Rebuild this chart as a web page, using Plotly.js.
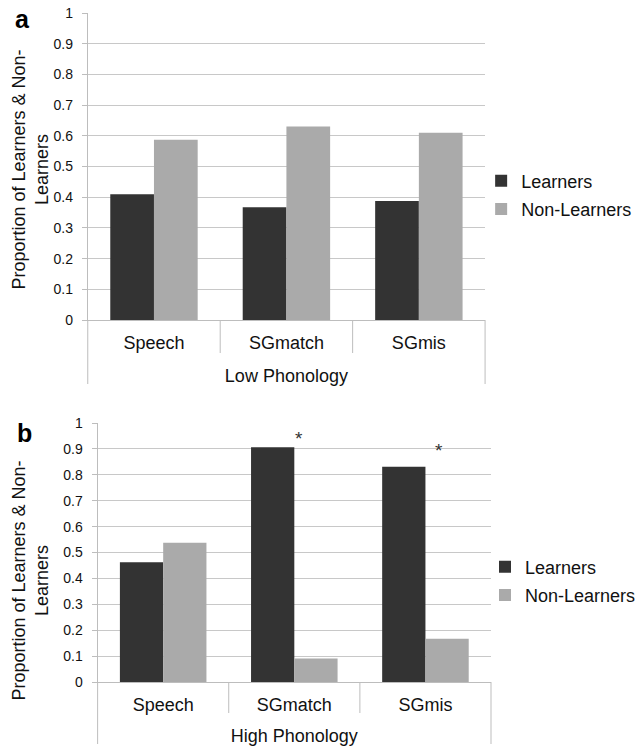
<!DOCTYPE html>
<html>
<head>
<meta charset="utf-8">
<script src="https://cdn.plot.ly/plotly-3.0.1.min.js"></script>
<style>html,body{margin:0;padding:0;background:#fff}#chart{width:641px;height:746px}</style>
</head>
<body>
<div id="chart"></div>
<script>
// ---- data ----
const categories = ["Speech", "SGmatch", "SGmis"];
const lowLearners = [0.41, 0.367, 0.388];
const lowNonLearners = [0.587, 0.63, 0.61];
const highLearners = [0.462, 0.906, 0.831];
const highNonLearners = [0.538, 0.091, 0.167];
const groupLow = "Low Phonology";
const groupHigh = "High Phonology";
const yTitle = "Proportion of Learners &amp; Non-<br>Learners";
const seriesNames = ["Learners", "Non-Learners"];
const sigCategories = ["SGmatch", "SGmis"];

// ---- helpers (pixel -> paper) ----
const W = 641, H = 746;
const px = x => x / W;
const py = y => 1 - y / H;

const FONT = "Liberation Sans, Arial, sans-serif";
const DARK = "#333333", LIGHT = "#aaaaaa";
const GRID = "#c8c8c8", LINE = "#bdbdbd";
const TXT = "#111111";

const traces = [
  {type: "bar", x: categories, y: lowLearners, name: seriesNames[0], xaxis: "x", yaxis: "y",
   marker: {color: DARK}, legend: "legend", legendgroup: "a1"},
  {type: "bar", x: categories, y: lowNonLearners, name: seriesNames[1], xaxis: "x", yaxis: "y",
   marker: {color: LIGHT}, legend: "legend", legendgroup: "a2"},
  {type: "bar", x: categories, y: highLearners, name: seriesNames[0], xaxis: "x2", yaxis: "y2",
   marker: {color: DARK}, legend: "legend2", legendgroup: "b1"},
  {type: "bar", x: categories, y: highNonLearners, name: seriesNames[1], xaxis: "x2", yaxis: "y2",
   marker: {color: LIGHT}, legend: "legend2", legendgroup: "b2"}
];

const xDomA = [px(89), px(492)], yDomA = [py(320), py(13)];
const xDomB = [px(99), px(498)], yDomB = [py(682), py(423)];

function xAxis(domain, anchor, title) {
  return {
    domain: domain, anchor: anchor, type: "category",
    showline: true, linecolor: LINE, linewidth: 1,
    showgrid: false, zeroline: false, ticks: "", ticklabelstandoff: 6,
    tickfont: {family: FONT, size: 18, color: TXT},
    title: {text: title, font: {family: FONT, size: 18, color: TXT}, standoff: 17},
    fixedrange: true
  };
}
function yAxis(domain, anchor) {
  return {
    domain: domain, anchor: anchor, range: [0, 1], dtick: 0.1, tick0: 0,
    showline: true, linecolor: LINE, linewidth: 1,
    showgrid: true, gridcolor: GRID, gridwidth: 1, zeroline: false,
    ticks: "outside", ticklen: 5, tickcolor: LINE, ticklabelstandoff: 6,
    tickfont: {family: FONT, size: 14, color: TXT},
    fixedrange: true
  };
}

// dividers between categories + extended outer lines
const shapes = [];
function addDividers(xref, xDom, yAxisPx, divBottomPx, outerBottomPx) {
  for (let i = 1; i < categories.length; i++) {
    shapes.push({type: "line", xref: xref, yref: "paper", x0: i - 0.5, x1: i - 0.5,
      y0: py(yAxisPx), y1: py(divBottomPx), line: {color: LINE, width: 1}});
  }
  [xDom[0], xDom[1]].forEach(xp => {
    shapes.push({type: "line", xref: "paper", yref: "paper", x0: xp, x1: xp,
      y0: py(yAxisPx), y1: py(outerBottomPx), line: {color: LINE, width: 1}});
  });
}
addDividers("x", xDomA, 320, 353, 384);
addDividers("x2", xDomB, 682, 713, 744);

const yTitleAnn = (cx, cy) => ({
  text: yTitle, xref: "paper", yref: "paper", x: px(cx), y: py(cy),
  xanchor: "center", yanchor: "middle", textangle: -90, showarrow: false,
  font: {family: FONT, size: 18, color: TXT}
});

const annotations = [
  {text: "<b>a</b>", xref: "paper", yref: "paper", x: px(23), y: py(19), xanchor: "center", yanchor: "middle",
   showarrow: false, font: {family: FONT, size: 25, color: "#000"}},
  {text: "<b>b</b>", xref: "paper", yref: "paper", x: px(25), y: py(433), xanchor: "center", yanchor: "middle",
   showarrow: false, font: {family: FONT, size: 25, color: "#000"}},
  yTitleAnn(30, 170),
  yTitleAnn(30, 581),
  {text: "*", xref: "x2", yref: "y2", x: sigCategories[0], y: 0.94, xshift: 5, showarrow: false,
   font: {family: FONT, size: 19, color: "#333"}},
  {text: "*", xref: "x2", yref: "y2", x: sigCategories[1], y: 0.895, xshift: 14, showarrow: false,
   font: {family: FONT, size: 19, color: "#333"}}
];

const legendStyle = (x, y) => ({
  x: x, y: y, xanchor: "left", yanchor: "middle", xref: "paper", yref: "paper",
  font: {family: FONT, size: 18, color: TXT}, bgcolor: "rgba(0,0,0,0)",
  tracegroupgap: 2, itemclick: false, itemdoubleclick: false
});

const layout = {
  width: W, height: H,
  margin: {l: 0, r: 0, t: 0, b: 0},
  paper_bgcolor: "#fff", plot_bgcolor: "#fff",
  barmode: "group", bargap: 0.34, bargroupgap: 0,
  showlegend: true,
  legend: legendStyle(px(488), py(195)),
  legend2: legendStyle(px(492), py(581)),
  xaxis: xAxis(xDomA, "y", groupLow),
  yaxis: yAxis(yDomA, "x"),
  xaxis2: xAxis(xDomB, "y2", groupHigh),
  yaxis2: yAxis(yDomB, "x2"),
  shapes: shapes,
  annotations: annotations,
  font: {family: FONT}
};

Plotly.newPlot("chart", traces, layout, {displayModeBar: false, staticPlot: true});
</script>
</body>
</html>
